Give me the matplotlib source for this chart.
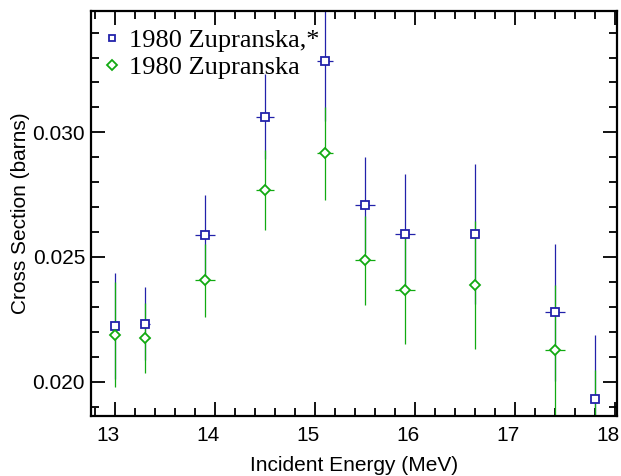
import matplotlib
matplotlib.use("Agg")
import matplotlib.pyplot as plt
from matplotlib.ticker import MultipleLocator, FormatStrFormatter
from matplotlib.transforms import ScaledTranslation
from matplotlib.lines import Line2D

# data
energy = [13.0, 13.3, 13.9, 14.5, 15.1, 15.5, 15.9, 16.6, 17.4, 17.8]
energy_err = [0.0, 0.05, 0.1, 0.09, 0.08, 0.1, 0.1, 0.0, 0.1, 0.0]

xs_star = [0.02223, 0.02233, 0.02588, 0.03063, 0.03285, 0.02709, 0.02592, 0.02592, 0.02278, 0.01932]
xs_star_err = [0.00213, 0.00146, 0.00160, 0.00171, 0.00240, 0.00193, 0.00240, 0.00282, 0.00275, 0.00255]

xs = [0.02189, 0.02175, 0.02407, 0.02769, 0.02916, 0.02487, 0.02367, 0.02388, 0.02127, 0.01790]
xs_err = [0.00210, 0.00141, 0.00146, 0.00162, 0.00186, 0.00178, 0.00218, 0.00258, 0.00260, 0.00257]

labels = ["1980 Zupranska,*", "1980 Zupranska"]

blue = "#2222aa"
green = "#11aa11"

fig = plt.figure(figsize=(6.21, 4.76), dpi=100)
ax = fig.add_axes([0.146, 0.126, 0.8476, 0.851])

ax.errorbar(energy, xs_star, yerr=xs_star_err, xerr=energy_err, fmt="s", color=blue,
            mfc="white", mec=blue, ms=6, mew=1.3, elinewidth=0.9, capsize=0)
ax.errorbar(energy, xs, yerr=xs_err, xerr=energy_err, fmt="D", color=green,
            mfc="white", mec=green, ms=5.5, mew=1.3, elinewidth=0.9, capsize=0)

ax.set_xlim(12.76, 18.02)
ax.set_ylim(0.01862, 0.03487)

ax.xaxis.set_major_locator(MultipleLocator(1))
ax.xaxis.set_minor_locator(MultipleLocator(0.2))
ax.yaxis.set_major_locator(MultipleLocator(0.005))
ax.yaxis.set_minor_locator(MultipleLocator(0.001))
ax.yaxis.set_major_formatter(FormatStrFormatter("%.3f"))

ax.tick_params(which="both", direction="in", top=True, right=True, width=1.3,
               labelsize=15, labelfontfamily="Liberation Sans")
ax.tick_params(axis="x", pad=7)
ax.tick_params(axis="y", pad=4)
ax.tick_params(which="major", length=10)
ax.tick_params(which="minor", length=6)
for s in ax.spines.values():
    s.set_linewidth(1.6)

# x tick labels sit a little left of their ticks in the reference
shift = ScaledTranslation(-7 / 100, 0, fig.dpi_scale_trans)
for lab in ax.get_xticklabels():
    lab.set_transform(lab.get_transform() + shift)

ax.set_xlabel("Incident Energy (MeV)", fontsize=15, family="Liberation Sans", labelpad=8)
ax.set_ylabel("Cross Section (barns)", fontsize=15, family="Liberation Sans", labelpad=2)

handles = [
    Line2D([], [], ls="none", marker="s", ms=5, mfc="white", mec=blue, mew=1.3),
    Line2D([], [], ls="none", marker="D", ms=5, mfc="white", mec=green, mew=1.3),
]
ax.legend(handles, labels, loc="upper left", bbox_to_anchor=(14.5 / 526, 1 - 18 / 405),
          frameon=False, prop={"family": "Liberation Serif", "size": 19},
          handlelength=0.5, handletextpad=0.4, labelspacing=0.11,
          borderaxespad=0.0, borderpad=0.0)

plt.savefig("out.png", dpi=100)
